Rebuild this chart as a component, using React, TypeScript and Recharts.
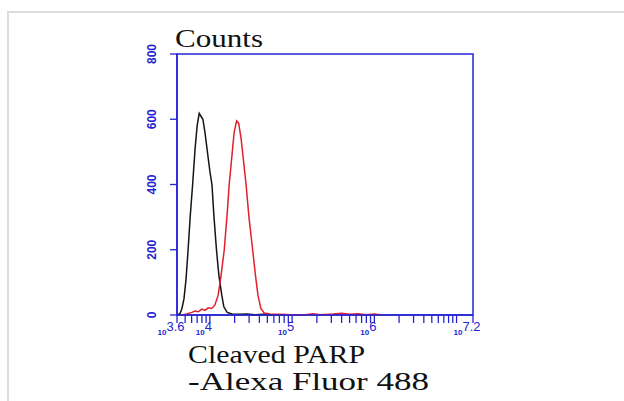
import { LineChart, Line, XAxis, YAxis, ReferenceArea } from 'recharts';

const BLUE = '#2424d2';

const xTicks = [
  3.6, 3.699, 3.778, 3.845, 3.903, 3.954,
  4, 4.301, 4.477, 4.602, 4.699, 4.778, 4.845, 4.903, 4.954,
  5, 5.301, 5.477, 5.602, 5.699, 5.778, 5.845, 5.903, 5.954,
  6, 6.301, 6.477, 6.602, 6.699, 6.778, 6.845, 6.903, 6.954,
  7, 7.2,
];
const xMajor: Record<string, string> = { '3.6': '3.6', '4': '4', '5': '5', '6': '6', '7.2': '7.2' };
const yTicks = [0, 200, 400, 600, 800];

// isotype control (black)
const blackLog = [3.6, 3.62, 3.64, 3.66, 3.685, 3.71, 3.735, 3.76, 3.79, 3.82, 3.845, 3.87, 3.89, 3.915, 3.94, 3.965, 4.0, 4.025, 4.05, 4.08, 4.11, 4.145, 4.17, 4.21, 4.27, 4.36, 4.45, 4.55, 4.65, 4.75, 4.9];
const blackCount = [0, 2, 6, 20, 50, 110, 200, 300, 400, 510, 580, 618, 610, 600, 560, 510, 440, 400, 300, 200, 120, 60, 25, 8, 3, 2, 3, 1, 2, 1, 0];

// Cleaved PARP (red)
const redLog = [3.66, 3.72, 3.78, 3.82, 3.86, 3.9, 3.94, 3.98, 4.02, 4.06, 4.1, 4.135, 4.175, 4.21, 4.235, 4.265, 4.295, 4.325, 4.35, 4.38, 4.41, 4.44, 4.475, 4.52, 4.555, 4.585, 4.62, 4.66, 4.73, 4.85, 5.0, 5.15, 5.25, 5.35, 5.5, 5.6, 5.7, 5.8, 5.9, 6.0, 6.1];
const redCount = [0, 3, 8, 12, 10, 18, 14, 22, 20, 30, 60, 120, 200, 310, 400, 480, 560, 595, 588, 540, 470, 400, 300, 200, 120, 60, 20, 6, 3, 2, 1, 0, 4, 1, 3, 5, 2, 4, 1, 3, 0];

const blackData = blackLog.map((x, i) => ({ x, y: blackCount[i] }));
const redData = redLog.map((x, i) => ({ x, y: redCount[i] }));

function XTick({ x, y, payload }: any) {
  const exp = xMajor[String(payload.value)];
  if (!exp) return null;
  return (
    <text x={x - 6} y={y + 10} textAnchor="middle" fill={BLUE} fontFamily="Liberation Sans, Arial, sans-serif">
      <tspan fontSize={8} fontWeight="bold">10</tspan>
      <tspan fontSize={13} dy={-4}>{exp}</tspan>
    </text>
  );
}

function YTick({ x, y, payload }: any) {
  const bx = x - 12;
  return (
    <text x={bx} y={y} transform={`rotate(-90, ${bx}, ${y})`} textAnchor="middle" fill={BLUE} fontSize={12} fontWeight="bold" fontFamily="Liberation Sans, Arial, sans-serif">
      {payload.value}
    </text>
  );
}

const serif = { fontFamily: '"Liberation Serif", "DejaVu Serif", serif', fontSize: 26, fill: '#111' };

export default function App() {
  return (
    <div style={{ position: 'absolute', left: 0, top: 0, width: 624, height: 401, background: '#fff', overflow: 'hidden' }}>
      <div style={{ position: 'absolute', left: 7, top: 11, width: 700, height: 500, borderLeft: '2px solid #dcdcdc', borderTop: '2px solid #dcdcdc' }} />
      <LineChart width={624} height={401} margin={{ top: 54, right: 151, left: 0, bottom: 0 }} style={{ position: 'absolute', left: 0, top: 0 }}>
        <XAxis
          type="number"
          dataKey="x"
          domain={[3.6, 7.2]}
          ticks={xTicks}
          interval={0}
          allowDataOverflow
          height={86}
          tickSize={8}
          tickMargin={2}
          axisLine={{ stroke: BLUE, strokeWidth: 1.5 }}
          tickLine={{ stroke: BLUE, strokeWidth: 1.3 }}
          tick={<XTick />}
        />
        <YAxis
          type="number"
          domain={[0, 800]}
          ticks={yTicks}
          width={177}
          tickSize={7}
          tickMargin={2}
          axisLine={{ stroke: BLUE, strokeWidth: 1.5 }}
          tickLine={{ stroke: BLUE, strokeWidth: 1.3 }}
          tick={<YTick />}
        />
        <ReferenceArea x1={3.6} x2={7.2} y1={0} y2={800} fill="none" stroke={BLUE} strokeWidth={1.5} ifOverflow="visible" />
        <Line data={blackData} dataKey="y" type="linear" stroke="#151515" strokeWidth={1.5} dot={false} isAnimationActive={false} />
        <Line data={redData} dataKey="y" type="linear" stroke="#e0202c" strokeWidth={1.5} dot={false} isAnimationActive={false} />
        <text x={175} y={47} textLength={88} lengthAdjust="spacingAndGlyphs" {...serif}>Counts</text>
        <text x={188} y={363} textLength={177} lengthAdjust="spacingAndGlyphs" {...serif}>Cleaved PARP</text>
        <text x={188} y={390} textLength={241} lengthAdjust="spacingAndGlyphs" {...serif}>-Alexa Fluor 488</text>
      </LineChart>
    </div>
  );
}
